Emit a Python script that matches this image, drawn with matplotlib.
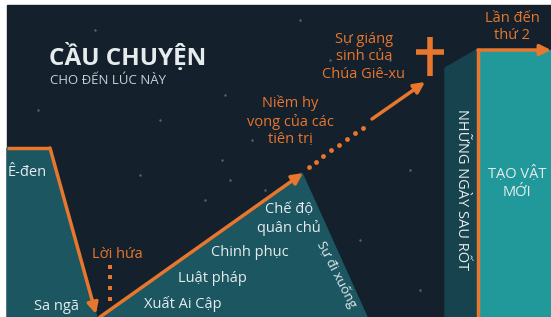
import matplotlib.pyplot as plt
from matplotlib.patches import Polygon, Rectangle

# colours
BG = '#14202c'
ORANGE = '#e8762c'
TEAL = '#1b5661'
TEAL_DARK = '#17434f'
TEAL_BRIGHT = '#21999b'
WHITE = '#e6ecee'

# shapes (pixel coordinates, y grows downwards)
eden_panel = [(7, 148), (50, 148), (97, 317), (7, 317)]
rise_panel = [(100, 317), (302, 173), (367, 317)]
last_days_panel = [(445, 68), (478, 49), (478, 317), (445, 317)]
new_creation = (478, 50, 73, 267)  # x, y, w, h

fall_path = [(7, 148), (50, 148)]
fall_arrow = ((50, 148), (96, 314))
rise_arrow = ((100, 317), (303, 173))
hope_dots_x = [309, 316, 323, 331, 339, 347, 355, 363]
hope_dots_y = [167, 162, 156, 150, 145, 139, 133, 128]
birth_arrow = ((372, 119), (425, 82))
promise_dots_x = [110, 110, 110, 110]
promise_dots_y = [267, 277, 288, 299]
second_arrow = ((478, 50), (551, 50))
cross_v = ([430, 430], [37, 76])
cross_h = ([416, 444], [52, 52])

stars_x = [95, 160, 225, 300, 390, 140, 265, 205, 230, 222, 252, 330, 410, 360, 38, 330, 420]
stars_y = [30, 120, 95, 20, 60, 175, 190, 200, 180, 160, 140, 60, 170, 240, 110, 270, 290]

# labels: text, x, y, alignment
white_labels = [
    ('Ê-đen', 8, 173, 'left'),
    ('Sa ngã', 56, 307, 'center'),
    ('Xuất Ai Cập', 183, 304, 'center'),
    ('Luật pháp', 212, 278, 'center'),
    ('Chinh phục', 250, 253, 'center'),
    ('Chế độ\nquân chủ', 289, 219, 'center'),
]
orange_labels = [
    ('Lời hứa', 117, 255),
    ('Niềm hy\nvọng của các\ntiên trị', 290, 121),
    ('Sự giáng\nsinh của\nChúa Giê-xu', 364, 57),
    ('Lần đến\nthứ 2', 512, 27),
]

plt.rcParams['font.family'] = ['Open Sans', 'DejaVu Sans']

fig = plt.figure(figsize=(5.51, 3.17), dpi=100)
fig.patch.set_facecolor('white')
ax = fig.add_axes([0, 0, 1, 1])
ax.set_xlim(0, 551)
ax.set_ylim(317, 0)
ax.axis('off')

ax.add_patch(Rectangle((7, 5), 544, 312, color=BG, zorder=0))
ax.scatter(stars_x, stars_y, s=3, color='#7f95a3', alpha=0.6, zorder=1, linewidths=0)

ax.add_patch(Polygon(eden_panel, closed=True, color=TEAL, zorder=2))
ax.add_patch(Polygon(rise_panel, closed=True, color=TEAL, zorder=2))
ax.add_patch(Polygon(last_days_panel, closed=True, color=TEAL_DARK, zorder=2))
x0, y0, w, h = new_creation
ax.add_patch(Rectangle((x0, y0), w, h, color=TEAL_BRIGHT, zorder=2))

# timeline
ax.plot([p[0] for p in fall_path], [p[1] for p in fall_path], color=ORANGE, lw=2.5,
        solid_capstyle='butt', zorder=4)
ax.plot([x0, x0], [y0, 317], color=ORANGE, lw=2.5, zorder=4)
arrow = dict(arrowstyle='-|>', color=ORANGE, lw=2.5, mutation_scale=16, shrinkA=0, shrinkB=0)
for start, end in [fall_arrow, rise_arrow, birth_arrow, second_arrow]:
    ax.annotate('', xy=end, xytext=start, arrowprops=arrow, zorder=5)
ax.scatter(hope_dots_x, hope_dots_y, s=12, color=ORANGE, zorder=5, linewidths=0)
ax.scatter(promise_dots_x, promise_dots_y, s=10, marker='s', color=ORANGE, zorder=5,
           linewidths=0)
ax.plot(*cross_v, color=ORANGE, lw=4, solid_capstyle='butt', zorder=5)
ax.plot(*cross_h, color=ORANGE, lw=4, solid_capstyle='butt', zorder=5)

# titles
ax.text(49, 57, 'CẦU CHUYỆN', color=WHITE, fontsize=17.5, fontweight='bold',
        va='center', ha='left', zorder=6)
ax.text(50, 80, 'CHO ĐẾN LÚC NÀY', color='#c8d0d4', fontsize=9.5, va='center',
        ha='left', zorder=6)

for txt, x, y, ha in white_labels:
    ax.text(x, y, txt, color=WHITE, fontsize=10.5, ha=ha, va='center',
            linespacing=1.25, zorder=6)
for txt, x, y in orange_labels:
    ax.text(x, y, txt, color=ORANGE, fontsize=10.5, ha='center', va='center',
            linespacing=1.25, zorder=6)

ax.text(517, 183, 'TẠO VẬT\nMỚI', color=WHITE, fontsize=10.5, ha='center', va='center',
        linespacing=1.3, zorder=6)
ax.text(461, 190, 'NHỮNG NGÀY SAU RỐT', color=WHITE, fontsize=10.5,
        rotation=-90, ha='center', va='center', zorder=6)
ax.text(337, 274, 'Sự đi xuống', color=WHITE, fontsize=9.5, rotation=-63,
        ha='center', va='center', zorder=6)

fig.savefig('out.png', dpi=100)
